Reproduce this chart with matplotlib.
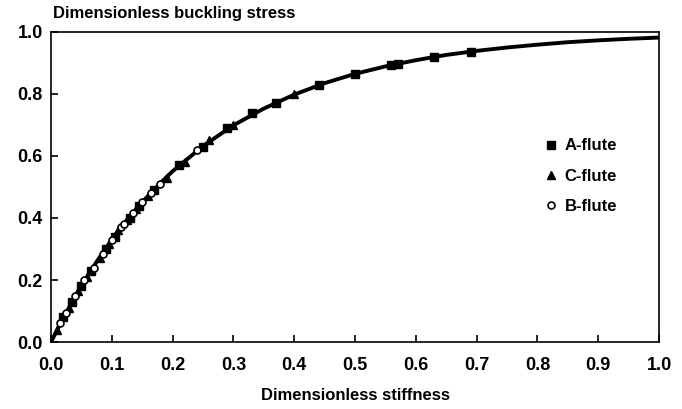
import matplotlib.pyplot as plt
import numpy as np

# curve
curve_x = [0, 0.02, 0.05, 0.075, 0.1, 0.125, 0.15, 0.175, 0.2, 0.25, 0.3, 0.35, 0.4,
           0.45, 0.5, 0.55, 0.6, 0.65, 0.7, 0.75, 0.8, 0.85, 0.9, 0.95, 1.0]
curve_y = [0, 0.077, 0.181, 0.259, 0.33, 0.394, 0.451, 0.503, 0.551, 0.632, 0.699, 0.753, 0.798,
           0.835, 0.865, 0.889, 0.909, 0.926, 0.939, 0.950, 0.959, 0.967, 0.973, 0.978, 0.982]

# measured points
a_x = [0.02, 0.035, 0.05, 0.065, 0.09, 0.105, 0.13, 0.145, 0.17, 0.21, 0.25, 0.29, 0.33, 0.37,
       0.44, 0.50, 0.56, 0.57, 0.63, 0.69]
a_y = [0.08, 0.13, 0.18, 0.23, 0.30, 0.34, 0.40, 0.44, 0.49, 0.57, 0.63, 0.69, 0.74, 0.77,
       0.83, 0.865, 0.893, 0.898, 0.92, 0.937]
c_x = [0.01, 0.03, 0.045, 0.06, 0.08, 0.095, 0.11, 0.125, 0.14, 0.16, 0.19, 0.22, 0.26, 0.30, 0.40]
c_y = [0.04, 0.11, 0.165, 0.21, 0.27, 0.315, 0.36, 0.395, 0.43, 0.47, 0.53, 0.58, 0.65, 0.70, 0.80]
b_x = [0.015, 0.025, 0.04, 0.055, 0.07, 0.085, 0.10, 0.115, 0.12, 0.135, 0.15, 0.165, 0.18, 0.24]
b_y = [0.06, 0.095, 0.15, 0.20, 0.24, 0.285, 0.33, 0.37, 0.38, 0.415, 0.45, 0.48, 0.51, 0.62]

plt.rcParams['font.family'] = ['Liberation Sans', 'DejaVu Sans']
plt.rcParams['font.weight'] = 'bold'

fig = plt.figure(figsize=(6.82, 4.09), dpi=100)
ax = fig.add_axes([0.0748, 0.1638, 0.8915, 0.758])

ax.plot(curve_x, curve_y, color='black', lw=2.8, zorder=2)
ax.plot(a_x, a_y, 's', color='black', ms=5.5, label='A-flute', zorder=3)
ax.plot(c_x, c_y, '^', color='black', ms=6, label='C-flute', zorder=3)
ax.plot(b_x, b_y, 'o', mfc='white', mec='black', mew=1.2, ms=5, label='B-flute', zorder=3)

ax.set_xlim(0, 1.0)
ax.set_ylim(0, 1.0)
ax.set_xticks(np.arange(0, 1.01, 0.1))
ax.set_yticks(np.arange(0, 1.01, 0.2))
ax.set_xticklabels(['%.1f' % v for v in np.arange(0, 1.01, 0.1)])
ax.set_yticklabels(['%.1f' % v for v in np.arange(0, 1.01, 0.2)])
ax.tick_params(direction='in', length=5, width=1.2, labelsize=13)
ax.tick_params(axis='x', pad=11)
ax.tick_params(axis='y', pad=6)
for s in ax.spines.values():
    s.set_linewidth(1.2)

fig.text(0.078, 0.968, 'Dimensionless buckling stress', fontsize=12, fontweight='bold', va='center')
ax.set_xlabel('Dimensionless stiffness', fontsize=12, fontweight='bold', labelpad=10)

ax.legend(loc='upper left', bbox_to_anchor=(0.79, 0.705), frameon=False, fontsize=12,
          handlelength=0.6, handletextpad=0.5, labelspacing=0.92)

fig.savefig('out.png', dpi=100)
